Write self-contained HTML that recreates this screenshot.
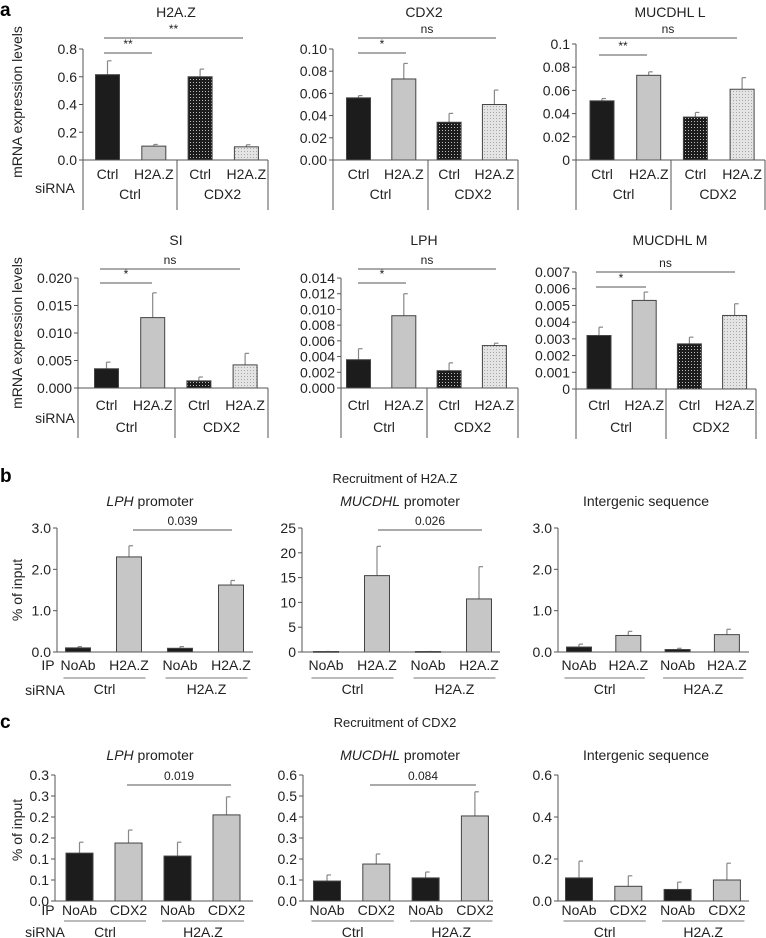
<!DOCTYPE html>
<html><head><meta charset="utf-8">
<style>
html,body{margin:0;padding:0;background:#fff;}
svg{display:block;font-family:"Liberation Sans",sans-serif;}
</style></head>
<body>
<svg id="fig" width="766" height="938" viewBox="0 0 766 938" xmlns="http://www.w3.org/2000/svg">
<defs>
<pattern id="darkDots" width="3" height="3" patternUnits="userSpaceOnUse"><rect width="3" height="3" fill="#1c1c1c"/><rect x="1" y="1" width="1" height="1" fill="#bbb"/></pattern>
<pattern id="lightDots" width="3" height="3" patternUnits="userSpaceOnUse"><rect width="3" height="3" fill="#e4e4e4"/><rect x="1" y="1" width="1" height="1" fill="#a8a8a8"/></pattern>
</defs>
</svg>
<script>
// ---------- DATA ----------
const aCats = ["Ctrl","H2A.Z","Ctrl","H2A.Z"];
const aGroups = ["Ctrl","CDX2"];
const h2azVals = [0.615,0.10,0.60,0.095];
const h2azErr  = [0.715,0.112,0.655,0.11];
const h2azTicks = ["0.0","0.2","0.4","0.6","0.8"];
const cdx2Vals = [0.056,0.073,0.034,0.050];
const cdx2Err  = [0.058,0.087,0.042,0.063];
const cdx2Ticks = ["0.00","0.02","0.04","0.06","0.08","0.10"];
const mucLVals = [0.051,0.073,0.037,0.061];
const mucLErr  = [0.053,0.076,0.041,0.071];
const mucLTicks = ["0","0.02","0.04","0.06","0.08","0.1"];
const siVals = [0.0035,0.0128,0.0013,0.0042];
const siErr  = [0.0047,0.0173,0.0020,0.0063];
const siTicks = ["0.000","0.005","0.010","0.015","0.020"];
const lphVals = [0.0036,0.0092,0.0022,0.0054];
const lphErr  = [0.0050,0.0120,0.0032,0.0057];
const lphTicks = ["0.000","0.002","0.004","0.006","0.008","0.010","0.012","0.014"];
const mucMVals = [0.0032,0.0053,0.0027,0.0044];
const mucMErr  = [0.0037,0.0058,0.0031,0.0051];
const mucMTicks = ["0","0.001","0.002","0.003","0.004","0.005","0.006","0.007"];

const bH2Cats = ["NoAb","H2A.Z","NoAb","H2A.Z"];
const bcGroups = ["Ctrl","H2A.Z"];
const bLphVals = [0.10,2.30,0.09,1.62];
const bLphErr  = [0.13,2.57,0.13,1.73];
const bLphTicks = ["0.0","1.0","2.0","3.0"];
const bMucVals = [0.1,15.4,0.1,10.7];
const bMucErr  = [0.1,21.3,0.1,17.2];
const bMucTicks = ["0","5","10","15","20","25"];
const bIntVals = [0.12,0.40,0.06,0.42];
const bIntErr  = [0.19,0.50,0.09,0.55];
const bIntTicks = ["0.0","1.0","2.0","3.0"];

const cCdxCats = ["NoAb","CDX2","NoAb","CDX2"];
const cLphVals = [0.114,0.138,0.107,0.205];
const cLphErr  = [0.140,0.169,0.140,0.248];
const cLphTicks = ["0.0","0.1","0.1","0.2","0.2","0.3","0.3"];
const cMucVals = [0.095,0.176,0.110,0.405];
const cMucErr  = [0.124,0.224,0.138,0.520];
const cMucTicks = ["0.0","0.1","0.2","0.3","0.4","0.5","0.6"];
const cIntVals = [0.11,0.07,0.055,0.10];
const cIntErr  = [0.19,0.12,0.09,0.18];
const cIntTicks = ["0.0","0.2","0.4","0.6"];

// ---------- RENDER ----------
const NS="http://www.w3.org/2000/svg";
const svg=document.getElementById("fig");
function mk(tag,attrs,parent,txt){const e=document.createElementNS(NS,tag);for(const k in attrs)e.setAttribute(k,attrs[k]);if(txt!==undefined)e.textContent=txt;(parent||svg).appendChild(e);return e;}
const AX="#555";
function txt(x,y,s,size,anchor,parent,name,extra){
  const e=mk("text",Object.assign({x:x,y:y,"font-size":size,"text-anchor":anchor||"middle",fill:"#222"},extra||{}),parent,s);
  
  
  return e;
}
const fills=["#1c1c1c","#c6c6c6","url(#darkDots)","url(#lightDots)"];
const fillsBC=["#1c1c1c","#c6c6c6","#1c1c1c","#c6c6c6"];

function panel(p){
  const g=mk("g",{});
  
  
  const n=p.ticks.length-1;
  const y=v=>p.base-(v/p.max)*(p.base-p.top);
  p.ticks.forEach((t,i)=>{
    const ty=p.base-(i/n)*(p.base-p.top);
    mk("line",{x1:p.ax-4,x2:p.ax,y1:ty,y2:ty,stroke:AX,"stroke-width":1},g);
    txt(p.ax-6,ty+5,t,14,"end",g,"y-tick-label");
  });
  mk("line",{x1:p.ax,x2:p.ax,y1:p.top,y2:p.base,stroke:AX,"stroke-width":1},g);
  p.vals.forEach((v,i)=>{
    const cx=p.c0+i*p.step;
    const yt=y(v), ye=y(p.err[i]);
    mk("line",{x1:cx,x2:cx,y1:ye,y2:yt,stroke:"#888","stroke-width":1.2},g);
    mk("line",{x1:cx,x2:cx+4,y1:ye,y2:ye,stroke:"#888","stroke-width":1.2},g);
    const r=mk("rect",{x:cx-p.bw/2,y:yt,width:p.bw,height:Math.max(0.8,p.base-yt),fill:p.fills[i],stroke:"#444","stroke-width":1},g);
    
    
  });
  mk("line",{x1:p.ax,x2:p.xend,y1:p.base,y2:p.base,stroke:AX,"stroke-width":1},g);
  p.cats.forEach((c,i)=>txt(p.c0+i*p.step,p.labY,c,14,"middle",g,"x-category-label"));
  if(p.type==="a"){
    [p.ax,p.div,p.xend].forEach(x=>mk("line",{x1:x,x2:x,y1:p.base,y2:p.base+50,stroke:AX,"stroke-width":1},g));
    txt((p.ax+p.div)/2,p.grpY,p.groups[0],14,"middle",g,"group-label");
    txt((p.div+p.xend)/2,p.grpY,p.groups[1],14,"middle",g,"group-label");
  } else {
    const ul=p.base+(p.ulOff||26);
    for(let k=0;k<2;k++){
      const a=p.c0+(2*k)*p.step-p.bw/2-2, b=p.c0+(2*k+1)*p.step+p.bw/2+4;
      mk("line",{x1:a,x2:b,y1:ul,y2:ul,stroke:"#777","stroke-width":1},g);
      txt((a+b)/2,ul+16,p.groups[k],14,"middle",g,"group-label");
    }
  }
  (p.sig||[]).forEach(s=>{
    mk("line",{x1:s[0],x2:s[1],y1:s[2],y2:s[2],stroke:"#555","stroke-width":1},g);
    txt((s[0]+s[1])/2,s[2]-5,s[3],s[4]||12,"middle",g,"significance-label");
  });
  if(p.title) txt(p.tx,p.ty,p.title,14,"middle",g,"panel-title");
  return g;
}

const r1={type:"a",top:49,base:160,bw:24,labY:179,grpY:199,groups:aGroups,cats:aCats,fills:fills,ty:17};
panel(Object.assign({},r1,{name:"chart-h2az",ax:83,xend:268,div:177,c0:107.5,step:46.3,max:0.8,ticks:h2azTicks,vals:h2azVals,err:h2azErr,title:"H2A.Z",tx:176,sig:[[104,152,53,"**"],[104,243,38,"**"]]}));
panel(Object.assign({},r1,{name:"chart-cdx2",ax:333,xend:518,div:428,c0:358.5,step:45.3,max:0.1,ticks:cdx2Ticks,vals:cdx2Vals,err:cdx2Err,title:"CDX2",tx:424,sig:[[358,406,53,"*"],[358,496,38,"ns"]]}));
panel(Object.assign({},r1,{name:"chart-mucdhl-l",ax:576,xend:765,div:671,c0:602,step:46.7,top:44,max:0.1,ticks:mucLTicks,vals:mucLVals,err:mucLErr,title:"MUCDHL L",tx:670,sig:[[599,647,55,"**"],[599,737,38,"ns"]]}));
const r2={type:"a",top:278,base:388,bw:24,labY:410,grpY:432,groups:aGroups,cats:aCats,fills:fills,ty:245};
panel(Object.assign({},r2,{name:"chart-si",ax:78,xend:268,div:175,c0:106.5,step:46.2,max:0.02,ticks:siTicks,vals:siVals,err:siErr,title:"SI",tx:176,sig:[[100,152,283,"*"],[100,240,269,"ns"]]}));
panel(Object.assign({},r2,{name:"chart-lph",ax:341,xend:518,div:427,c0:358.5,step:45.3,max:0.014,ticks:lphTicks,vals:lphVals,err:lphErr,title:"LPH",tx:424,sig:[[358,406,283,"*"],[358,496,269,"ns"]]}));
panel(Object.assign({},r2,{name:"chart-mucdhl-m",ax:576,xend:756,div:666,top:272,base:389,c0:599,step:45.2,max:0.007,ticks:mucMTicks,vals:mucMVals,err:mucMErr,title:"MUCDHL M",tx:670,sig:[[596,646,287,"*"],[596,735,272,"ns"]]}));
const rb={type:"b",top:528,base:652,bw:25,labY:670,groups:bcGroups,cats:bH2Cats,fills:fillsBC};
panel(Object.assign({},rb,{name:"chart-b-lph",ax:57,xend:253,c0:78,step:51,max:3,ticks:bLphTicks,vals:bLphVals,err:bLphErr,sig:[[133,232,530,"0.039"]]}));
panel(Object.assign({},rb,{name:"chart-b-mucdhl",ax:302,xend:500,c0:326,step:51,max:25,ticks:bMucTicks,vals:bMucVals,err:bMucErr,sig:[[378,482,530,"0.026"]]}));
panel(Object.assign({},rb,{name:"chart-b-intergenic",ax:558,xend:749,c0:579,step:49.3,max:3,ticks:bIntTicks,vals:bIntVals,err:bIntErr}));
const rc={type:"c",top:775,base:901,bw:27,labY:915,ulOff:20,groups:bcGroups,cats:cCdxCats,fills:fillsBC};
panel(Object.assign({},rc,{name:"chart-c-lph",ax:55,xend:253,c0:79.5,step:49,max:0.3,ticks:cLphTicks,vals:cLphVals,err:cLphErr,sig:[[127,231,785,"0.019"]]}));
panel(Object.assign({},rc,{name:"chart-c-mucdhl",ax:303,xend:493,c0:327,step:49.3,max:0.6,ticks:cMucTicks,vals:cMucVals,err:cMucErr,sig:[[370,476,785,"0.084"]]}));
panel(Object.assign({},rc,{name:"chart-c-intergenic",ax:558,xend:749,c0:579,step:49.3,max:0.6,ticks:cIntTicks,vals:cIntVals,err:cIntErr}));

txt(0,16,"a",19,"start",null,"panel-label-a",{"font-weight":"bold",fill:"#000"});
txt(0,482,"b",19,"start",null,"panel-label-b",{"font-weight":"bold",fill:"#000"});
txt(0,728,"c",19,"start",null,"panel-label-c",{"font-weight":"bold",fill:"#000"});
txt(55,193,"siRNA",14,"middle",null,"sirna-label");
txt(55,423,"siRNA",14,"middle",null,"sirna-label");
txt(17,102,"mRNA expression levels",14,"middle",null,"y-axis-title",{transform:"rotate(-90 17 102)",dy:"5"});
txt(17,333,"mRNA expression levels",14,"middle",null,"y-axis-title",{transform:"rotate(-90 17 333)",dy:"5"});
txt(17,590,"% of input",14,"middle",null,"y-axis-title",{transform:"rotate(-90 17 590)",dy:"5"});
txt(17,830,"% of input",14,"middle",null,"y-axis-title",{transform:"rotate(-90 17 830)",dy:"5"});
txt(48,670,"IP",14,"middle",null,"ip-label");
txt(45,695,"siRNA",14,"middle",null,"sirna-label");
txt(48,915,"IP",14,"middle",null,"ip-label");
txt(45,937,"siRNA",14,"middle",null,"sirna-label");
txt(395,483,"Recruitment of H2A.Z",13,"middle",null,"section-title");
txt(395,727,"Recruitment of CDX2",13,"middle",null,"section-title");
function sub(x,y,it,rest){
  const t=txt(x,y,"",14,"middle",null,"chart-subtitle");
  if(it){const s=mk("tspan",{"font-style":"italic"},t,it);}
  mk("tspan",{},t,rest);
}
sub(150,506,"LPH"," promoter");sub(400,506,"MUCDHL"," promoter");sub(646,506,"","Intergenic sequence");
sub(150,760,"LPH"," promoter");sub(400,760,"MUCDHL"," promoter");sub(646,760,"","Intergenic sequence");
</script>
</body></html>
